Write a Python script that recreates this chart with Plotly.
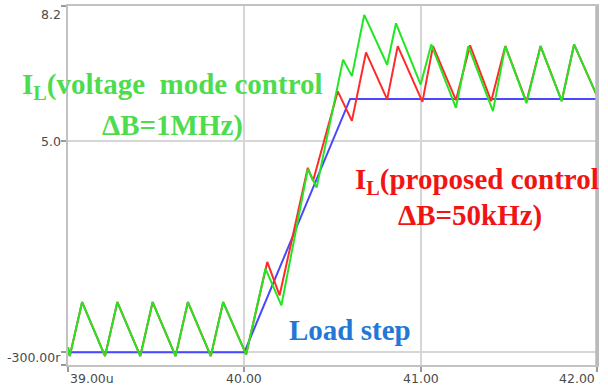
import plotly.graph_objects as go

# Time axis in microseconds, inductor current in amperes
# Steady ripple before the load step (identical for both controllers)
t_pre = [39.00, 39.01, 39.08, 39.21, 39.28, 39.41, 39.48, 39.61, 39.68, 39.81, 39.88, 40.01]
i_pre = [0.12, -0.09, 1.19, -0.09, 1.19, -0.09, 1.19, -0.09, 1.19, -0.09, 1.19, -0.05]

# Voltage mode control (bandwidth 1 MHz) after the step
t_vm = [40.12, 40.21, 40.36, 40.41, 40.56, 40.61, 40.68, 40.81, 40.86, 41.00,
        41.06, 41.20, 41.27, 41.41, 41.48, 41.60, 41.68, 41.80, 41.87, 42.00]
i_vm = [1.98, 1.11, 4.34, 3.90, 6.93, 6.54, 7.99, 6.81, 7.79, 6.34,
        7.29, 5.79, 7.25, 5.71, 7.25, 5.90, 7.25, 5.95, 7.29, 6.07]

# Proposed control (bandwidth 50 kHz) after the step
t_pc = [40.13, 40.20, 40.36, 40.39, 40.53, 40.61, 40.69, 40.81, 40.87, 41.01,
        41.07, 41.20, 41.28, 41.40, 41.48, 41.60, 41.68, 41.80, 41.87, 42.00]
i_pc = [2.14, 1.35, 4.37, 4.06, 6.18, 5.48, 7.10, 5.99, 7.25, 5.93,
        7.25, 5.97, 7.27, 5.95, 7.25, 5.93, 7.25, 5.95, 7.29, 6.07]

# Load current step
t_load = [39.00, 40.00, 40.60, 42.00]
i_load = [0.0, 0.0, 6.0, 6.0]

x_ticks = [39.0, 40.0, 41.0, 42.0]
x_tick_text = ["39.00u", "40.00", "41.00", "42.00"]
x_tick_anchor = ["left", "center", "center", "right"]
y_ticks = [-0.3, 0.0, 5.0, 8.2]
y_labels = [(8.2, "8.2", "top", 1), (5.0, "5.0", "middle", 0), (-0.3, "-300.00r", "bottom", -2)]

GREEN = "#22e622"
RED = "#ff2a2a"
BLUE = "#4848ff"
SERIF = "Times New Roman, Liberation Serif, DejaVu Serif, serif"

fig = go.Figure()
fig.add_trace(go.Scatter(x=t_load, y=i_load, mode="lines",
                         line=dict(color=BLUE, width=2), name="Load step"))
fig.add_trace(go.Scatter(x=t_pre + t_pc, y=i_pre + i_pc, mode="lines",
                         line=dict(color=RED, width=2), name="IL proposed"))
fig.add_trace(go.Scatter(x=t_pre + t_vm, y=i_pre + i_vm, mode="lines",
                         line=dict(color=GREEN, width=2), name="IL voltage mode"))

fig.update_layout(
    width=608, height=387,
    margin=dict(l=68, r=11, t=4, b=22),
    plot_bgcolor="white", paper_bgcolor="white",
    showlegend=False,
)
fig.update_xaxes(range=[39, 42], tickvals=x_ticks, showticklabels=False,
                 ticks="outside", ticklen=5, tickcolor="#9a9a9a", tickwidth=1.5,
                 showgrid=True, gridcolor="#d6d6d6", gridwidth=1.5,
                 showline=True, linecolor="#c2c2c2", linewidth=2, mirror=True,
                 zeroline=False)
fig.update_yaxes(range=[-0.3, 8.2], tickvals=y_ticks, showticklabels=False,
                 ticks="outside", ticklen=5, tickcolor="#9a9a9a", tickwidth=1.5,
                 showgrid=True, gridcolor="#d6d6d6", gridwidth=1.5,
                 showline=True, linecolor="#c2c2c2", linewidth=2, mirror=True,
                 zeroline=False)

# heavier right-hand frame edge
fig.add_shape(type="line", xref="paper", yref="paper", x0=1, x1=1, y0=0, y1=1,
              line=dict(color="#bababa", width=3.5))

tick_font = dict(family="DejaVu Sans", size=12.5, color="#4a4a4a")
for xv, txt, anc in zip(x_ticks, x_tick_text, x_tick_anchor):
    fig.add_annotation(x=xv, y=0, xref="x", yref="paper", text=txt, showarrow=False,
                       xanchor=anc, yanchor="top", yshift=-4, font=tick_font)
for yv, txt, anc, ys in y_labels:
    fig.add_annotation(x=0, y=yv, xref="paper", yref="y", text=txt, showarrow=False,
                       xanchor="right", yanchor=anc, xshift=-5, yshift=ys, font=tick_font)


def label(x, y, text, color, anchor="center"):
    fig.add_annotation(x=x, y=y, text="<b>" + text + "</b>", showarrow=False,
                       xanchor=anchor, yanchor="middle",
                       font=dict(family=SERIF, size=29, color=color))


label(39.59, 6.30, "I<sub>L</sub>(voltage  mode control", "#4ddc4d")
label(39.59, 5.38, "ΔB=1MHz)", "#4ddc4d")
label(40.615, 4.06, "I<sub>L</sub>(proposed control", "#f01414", anchor="left")
label(41.28, 3.24, "ΔB=50kHz)", "#f01414")
label(40.60, 0.525, "Load step", "#2378d6")

fig.write_html("out.html")
